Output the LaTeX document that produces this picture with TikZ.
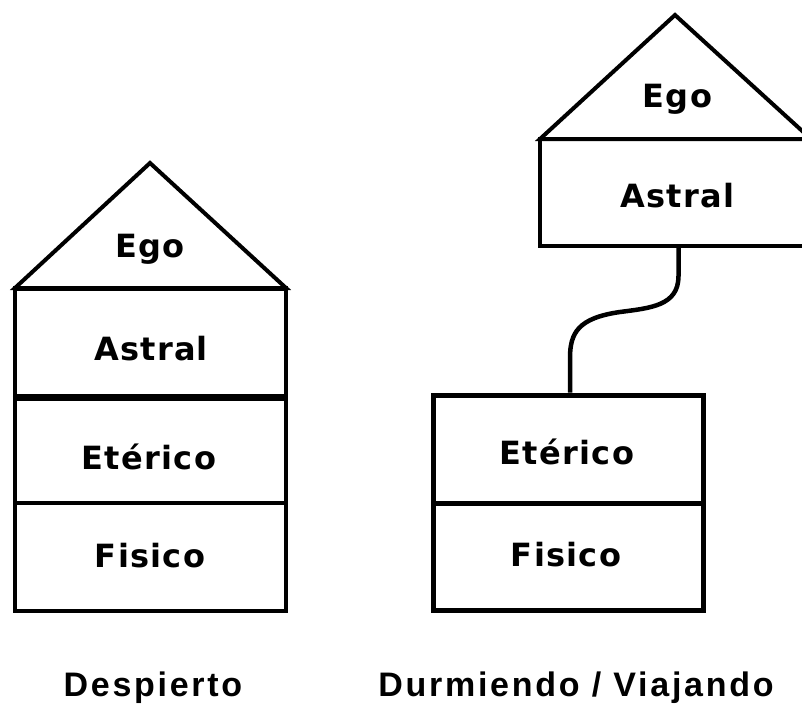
\documentclass[tikz,border=0pt]{standalone}
\usepackage{fontspec}
\newfontfamily\boxfont{DejaVu Sans}[LetterSpace=4]
\newfontfamily\capfont{Liberation Sans}[LetterSpace=8]
\begin{document}
\begin{tikzpicture}[x=1pt,y=-1pt,
  cell/.style={draw,line width=4.5pt,minimum width=271pt,inner sep=0pt},
  roof/.style={draw,line width=4pt,line join=miter},
  txt/.style={font=\boxfont\bfseries\fontsize{32}{38}\selectfont,text height=23pt,text depth=0pt,inner sep=0pt},
  caption/.style={font=\capfont\bfseries\fontsize{34}{40}\selectfont,text height=24.5pt,text depth=0pt,inner sep=0pt},
  wire/.style={draw,line width=4.5pt}]
\useasboundingbox (0,0) rectangle (802,706);
\clip (0,0) rectangle (802,706);
% ---------- left: Despierto ----------
\coordinate (LApex) at (150,163);
\coordinate (LBl) at (15,288);
\coordinate (LBr) at (286,288);
\path[roof] (LBl) -- (LApex) -- (LBr) -- cycle;
\node[cell,minimum height=108pt] (LA) at (150.5,342) {};
\node[cell,minimum height=107pt,line width=4pt] (LE) at (150.5,449.5) {};
\node[cell,minimum height=108pt,line width=4pt] (LF) at (150.5,557) {};
\draw[line width=5.5pt] (LA.south west) -- (LA.south east);
\draw[line width=5pt] (LBl) -- (LBr);
\node[txt] (LEgo) at (150,245.5) {Ego};
\node[txt] (LAt) at (151,349) {Astral};
\node[txt] (LEt) at (149,457.5) {Etérico};
\node[txt] (LFi) at (150,555.5) {Fisico};
% ---------- right: Durmiendo / Viajando ----------
\coordinate (RApex) at (675,15);
\coordinate (RBl) at (540,139);
\coordinate (RBr) at (811,139);
\path[roof] (RBl) -- (RApex) -- (RBr) -- cycle;
\node[cell,minimum height=107pt,line width=4pt] (RA) at (675.5,192.5) {};
\node[cell,minimum height=108pt,line width=5pt,minimum width=270pt] (RE) at (568,449) {};
\node[cell,minimum height=107pt,line width=5pt,minimum width=270pt] (RF) at (568,556.5) {};
\node[txt] (REgo) at (677.5,95.5) {Ego};
\node[txt] (RAt) at (677.5,195.5) {Astral};
\node[txt] (REt) at (567,452.5) {Etérico};
\node[txt] (RFi) at (566,555) {Fisico};
% connector (silver cord)
\coordinate (W1) at ([xshift=3pt]RA.south);
\coordinate (W2) at ([xshift=2pt]RE.north);
\draw[wire] (W1) -- ++(0,28) .. controls ++(0,30) and (650,308) .. (620,312)
  .. controls (578,318) and (570,333) .. (570,358) -- (W2);
% ---------- captions ----------
\node[caption] (C1) at (153,684) {Despierto};
\node[caption] (C2) at (576,684) {Durmiendo / Viajando};
\end{tikzpicture}
\end{document}
